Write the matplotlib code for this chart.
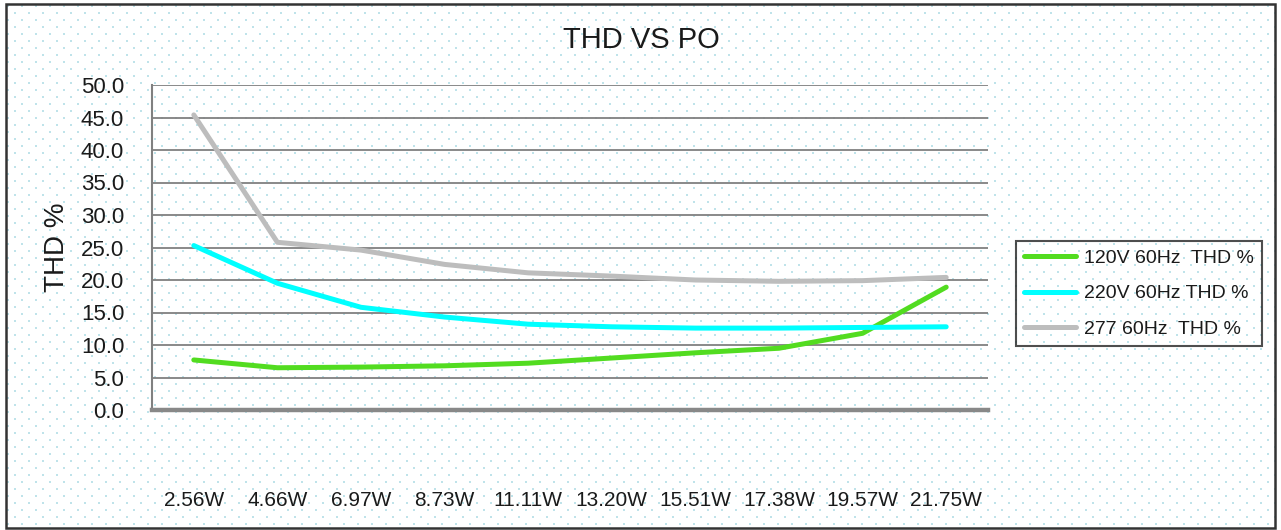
import numpy as np
import matplotlib
matplotlib.use("Agg")
import matplotlib.pyplot as plt
from matplotlib.patches import Rectangle

plt.rcParams['font.family'] = ['Liberation Sans', 'DejaVu Sans']

categories = ["2.56W", "4.66W", "6.97W", "8.73W", "11.11W", "13.20W",
              "15.51W", "17.38W", "19.57W", "21.75W"]
thd_120v = [7.7, 6.5, 6.6, 6.8, 7.2, 8.0, 8.8, 9.5, 11.8, 18.9]
thd_220v = [25.3, 19.5, 15.8, 14.3, 13.2, 12.8, 12.6, 12.6, 12.7, 12.8]
thd_277 = [45.4, 25.8, 24.6, 22.4, 21.1, 20.6, 20.0, 19.8, 19.9, 20.4]
series_labels = ["120V 60Hz  THD %", "220V 60Hz THD %", "277 60Hz  THD %"]
yticks = [0, 5, 10, 15, 20, 25, 30, 35, 40, 45, 50]

W, H = 1281, 530
fig = plt.figure(figsize=(W / 100, H / 100), dpi=100)

# dotted background texture
bg = fig.add_axes([0, 0, 1, 1], zorder=-5)
bg.set_xlim(0, W)
bg.set_ylim(H, 0)
bg.axis('off')
xs, ys = [], []
row = 0
for yy in np.arange(6, H, 7):
    off = 0 if row % 2 == 0 else 7
    for xx in np.arange(8 + off, W, 14):
        xs.append(xx)
        ys.append(yy)
    row += 1
bg.scatter(xs, ys, s=1.2, c='#bfe3ea', marker='s', linewidths=0)
bg.add_patch(Rectangle((5.5, 4), W - 12, H - 6.5, fill=False,
                       edgecolor='#333333', linewidth=1.8))

ax = fig.add_axes([152 / W, 1 - 410 / H, (988 - 152) / W, (410 - 85) / H])
ax.set_facecolor('none')
x = np.arange(len(categories))

colors = ['#52dc20', '#00ffff', '#bdbdbd']
for vals, col, lab in zip([thd_120v, thd_220v, thd_277], colors, series_labels):
    ax.plot(x, vals, color=col, linewidth=3.6, label=lab,
            solid_capstyle='round', solid_joinstyle='round', zorder=3)

ax.set_xlim(-0.5, len(categories) - 0.5)
ax.set_ylim(0, 50)
ax.set_yticks(yticks)
ax.set_yticklabels([f"{v:.1f}" for v in yticks], fontsize=16, color='#1a1a1a')
ax.set_xticks(x)
ax.set_xticklabels(categories, fontsize=15, color='#1a1a1a')
ax.tick_params(axis='y', length=0, pad=20)
ax.tick_params(axis='x', length=0, pad=58)
ax.grid(axis='y', color='#808080', linewidth=1.3, zorder=1)
ax.set_axisbelow(True)
for s in ['top', 'right']:
    ax.spines[s].set_visible(False)
ax.spines['left'].set_color('#808080')
ax.spines['left'].set_linewidth(1.5)
ax.spines['bottom'].set_color('#888888')
ax.spines['bottom'].set_linewidth(3.2)

ax.set_ylabel("THD %", fontsize=20, color='#1a1a1a', labelpad=8)
fig.text(641 / W, 1 - 40 / H, "THD VS PO", fontsize=21, ha='center',
         va='center', color='#1a1a1a')

leg = fig.legend(loc='center', bbox_to_anchor=(1139 / W, 1 - 293.5 / H),
                 fontsize=14, frameon=True, fancybox=False,
                 handlelength=2.7, handletextpad=0.4, labelspacing=0.93,
                 borderpad=0.42)
leg.get_frame().set_edgecolor('#222222')
leg.get_frame().set_linewidth(1.5)
leg.get_frame().set_facecolor('none')
for t in leg.get_texts():
    t.set_color('#1a1a1a')

fig.savefig("out.png", dpi=100)
